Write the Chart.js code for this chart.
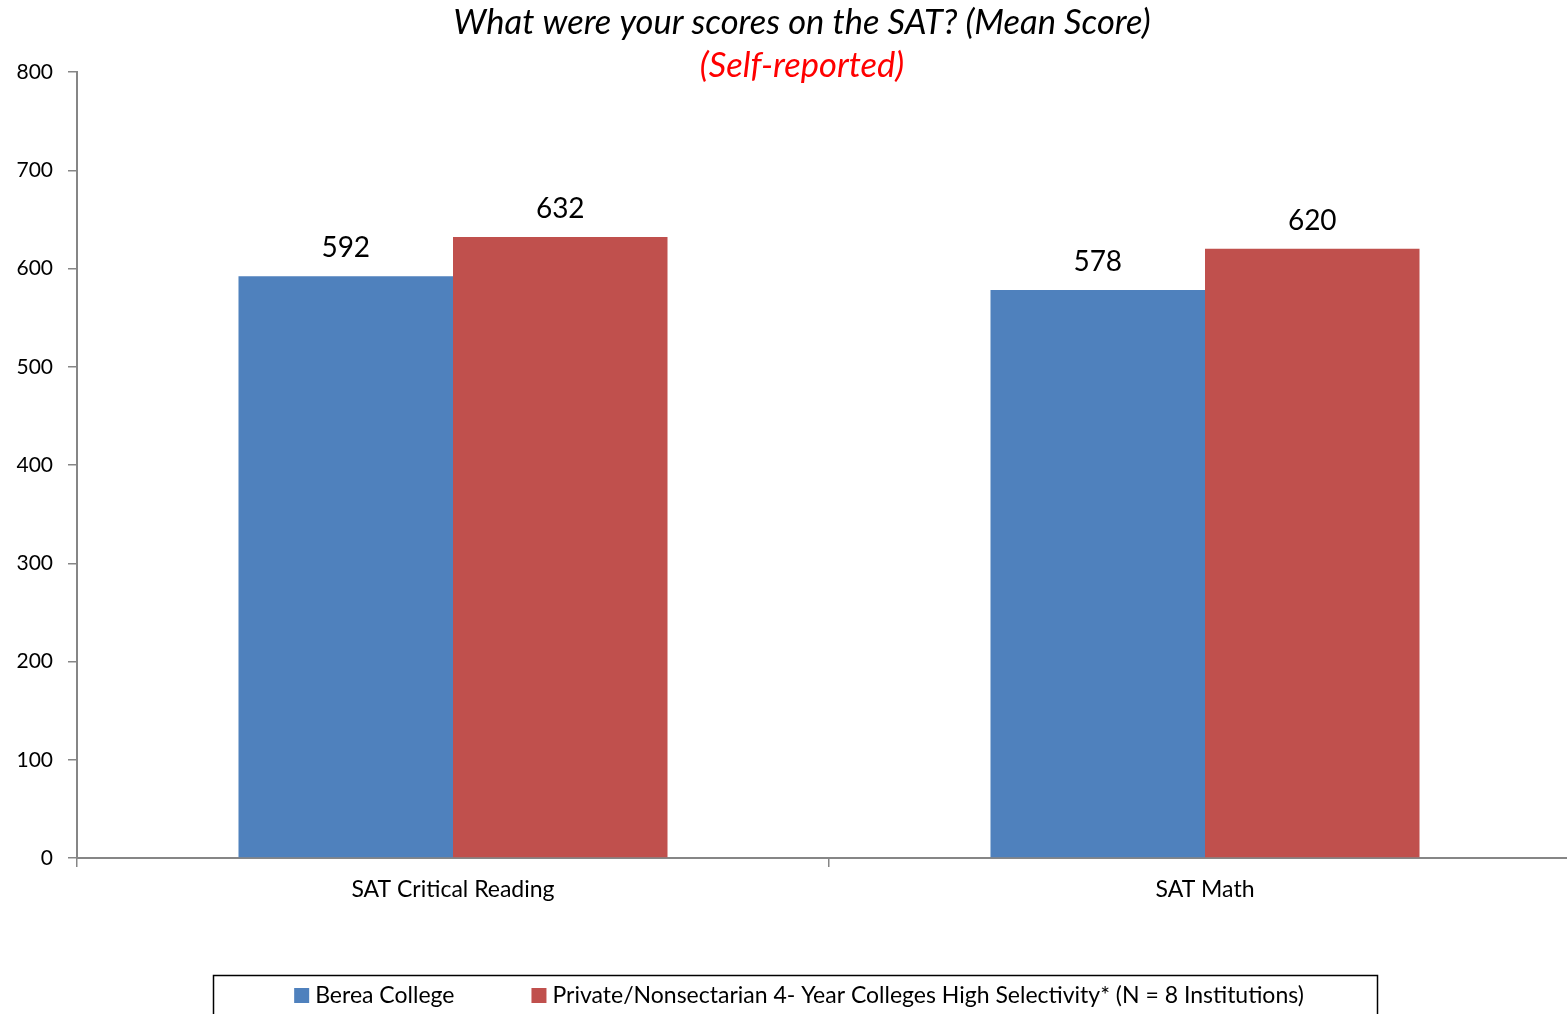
<!DOCTYPE html>
<html>
<head>
<meta charset="utf-8">
<script src="https://cdn.jsdelivr.net/npm/chart.js@4.4.1/dist/chart.umd.min.js"></script>
<style>
  html, body { margin: 0; padding: 0; background: #fff; overflow: hidden; }
  #wrap { width: 1604px; height: 1030px; }
</style>
</head>
<body>
<div id="wrap"><canvas id="graficoSat"></canvas></div>
<script>
const categorias = ["SAT Critical Reading", "SAT Math"];
const bereaValores = [592, 578];
const privadasValores = [632, 620];
const nomesSeries = ["Berea College", "Private/Nonsectarian 4- Year Colleges High Selectivity* (N = 8 Institutions)"];
const coresSeries = ["#4F81BD", "#C0504D"];
const titulo = "What were your scores on the SAT? (Mean Score)";
const subtitulo = "(Self-reported)";

const fonte = "Lato, 'Open Sans', sans-serif";

// titulos e legenda desenhados a mao
const extras = {
    id: "extras",
    afterDraw(chart) {
        const ctx = chart.ctx;
        ctx.save();
        ctx.textAlign = "center";
        ctx.textBaseline = "middle";
        ctx.font = "italic 34.5px " + fonte;
        ctx.fillStyle = "#000";
        ctx.fillText(titulo, 802, 23);
        ctx.fillStyle = "#FF0000";
        ctx.fillText(subtitulo, 802, 66);

        // rotulos de valor
        ctx.font = "28px " + fonte;
        ctx.fillStyle = "#000";
        chart.data.datasets.forEach((ds, i) => {
            chart.getDatasetMeta(i).data.forEach((bar, j) => {
                ctx.fillText(ds.data[j], bar.x, bar.y - 28);
            });
        });

        // legenda com borda
        ctx.strokeStyle = "#000";
        ctx.lineWidth = 1.5;
        ctx.strokeRect(213.5, 975.5, 1164, 80);
        ctx.font = "23px " + fonte;
        ctx.textAlign = "left";
        const caixa = 15, folga = 6, entre = 77;
        let total = 0;
        const larguras = chart.data.datasets.map(ds => ctx.measureText(ds.label).width);
        larguras.forEach((w, i) => { total += caixa + folga + w + (i ? entre : 0); });
        let x = 799 - total / 2;
        chart.data.datasets.forEach((ds, i) => {
            ctx.fillStyle = ds.backgroundColor;
            ctx.fillRect(x, 988, caixa, caixa);
            ctx.fillStyle = "#000";
            ctx.fillText(ds.label, x + caixa + folga, 996);
            x += caixa + folga + larguras[i] + entre;
        });
        ctx.restore();
    }
};

const grafico = new Chart(document.getElementById("graficoSat"), {
    type: "bar",
    data: {
        labels: categorias,
        datasets: [{
            label: nomesSeries[0],
            data: bereaValores,
            backgroundColor: coresSeries[0]
        }, {
            label: nomesSeries[1],
            data: privadasValores,
            backgroundColor: coresSeries[1]
        }]
    },
    options: {
        responsive: true,
        maintainAspectRatio: false,
        animation: false,
        devicePixelRatio: 1,
        layout: { padding: { left: 0, right: 23, top: 72, bottom: 112 } },
        datasets: { bar: { categoryPercentage: 0.5705, barPercentage: 1 } },
        plugins: {
            legend: { display: false },
            title: { display: false },
            tooltip: { enabled: false }
        },
        scales: {
            x: {
                afterFit: s => { s.height = 60; },
                grid: {
                    offset: true,
                    drawOnChartArea: false,
                    tickLength: 9,
                    color: "#868686",
                    lineWidth: 1.5
                },
                border: { color: "#868686", width: 2 },
                ticks: { color: "#000", font: { family: fonte, size: 23 }, padding: 9 }
            },
            y: {
                min: 0,
                max: 800,
                afterFit: s => { s.width = 77; },
                grid: {
                    drawOnChartArea: false,
                    tickLength: 9,
                    color: "#868686",
                    lineWidth: 1.5
                },
                border: { color: "#868686", width: 2 },
                ticks: { stepSize: 100, color: "#000", font: { family: fonte, size: 21 }, padding: 15 }
            }
        }
    },
    plugins: [extras]
});
</script>
</body>
</html>
